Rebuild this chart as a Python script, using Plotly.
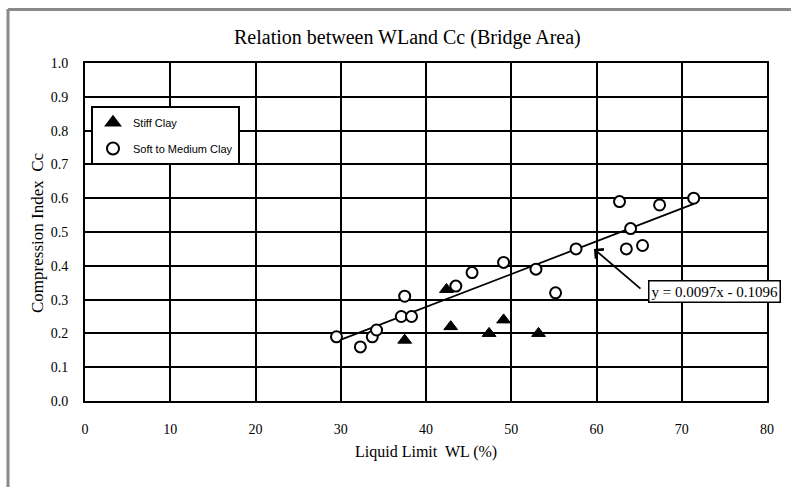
import plotly.graph_objects as go

# Liquid limit (%) and compression index for the bridge area samples
soft_wl = [29.5, 32.3, 33.7, 34.2, 37.1, 37.5, 38.3, 43.5, 45.4, 49.1,
           52.9, 55.2, 57.6, 62.7, 63.5, 64.0, 65.4, 67.4, 71.4]
soft_cc = [0.19, 0.16, 0.19, 0.21, 0.25, 0.31, 0.25, 0.34, 0.38, 0.41,
           0.39, 0.32, 0.45, 0.59, 0.45, 0.51, 0.46, 0.58, 0.60]

stiff_wl = [37.5, 42.4, 42.9, 47.4, 49.1, 53.2]
stiff_cc = [0.18, 0.33, 0.22, 0.20, 0.24, 0.20]

# Linear fit through the soft-to-medium clay points
slope = 0.0097
intercept = -0.1096
fit_label = "y = 0.0097x - 0.1096"

x_ticks = [0, 10, 20, 30, 40, 50, 60, 70, 80]
y_ticks = [0.0, 0.1, 0.2, 0.3, 0.4, 0.5, 0.6, 0.7, 0.8, 0.9, 1.0]

SERIF = "Liberation Serif, Times New Roman, serif"
SANS = "Liberation Sans, Arial, sans-serif"

W, H = 791, 487
L, R, T, B = 85, 24, 63, 86
PW, PH = W - L - R, H - T - B


def px_x(p):
    return (p - L) / PW


def px_y(p):
    return (H - B - p) / PH


fit_x = [min(soft_wl), max(soft_wl)]
fit_y = [slope * v + intercept for v in fit_x]

fig = go.Figure()

fig.add_trace(go.Scatter(
    x=fit_x, y=fit_y, mode="lines",
    line=dict(color="black", width=1.8),
    showlegend=False, hoverinfo="skip",
))

fig.add_trace(go.Scatter(
    x=stiff_wl, y=stiff_cc, mode="markers", name="Stiff Clay",
    legendgroup="stiff",
    marker=dict(symbol="triangle-up", size=12, color="black",
                line=dict(color="black", width=1)),
))

fig.add_trace(go.Scatter(
    x=soft_wl, y=soft_cc, mode="markers", name="Soft to Medium Clay",
    legendgroup="soft",
    marker=dict(symbol="circle", size=11, color="white",
                line=dict(color="black", width=2)),
))

axis_common = dict(
    showline=True, mirror=True, linecolor="black", linewidth=2,
    showgrid=True, gridcolor="black", gridwidth=1.8,
    zeroline=False, ticks="",
    tickfont=dict(family=SERIF, size=14, color="black"),
)

fig.update_xaxes(range=[0, 80], tickvals=x_ticks, ticklabelstandoff=14,
                 **axis_common)
fig.update_yaxes(range=[0, 1.0], tickvals=y_ticks, tickformat=".1f",
                 ticklabelstandoff=12, **axis_common)

annotations = [
    dict(text="Relation between WLand Cc (Bridge Area)",
         xref="paper", yref="paper", x=px_x(407), y=px_y(38),
         xanchor="center", yanchor="middle", showarrow=False,
         font=dict(family=SERIF, size=20, color="black")),
    dict(text="Liquid Limit  WL (%)",
         xref="paper", yref="paper", x=px_x(426), y=px_y(452),
         xanchor="center", yanchor="middle", showarrow=False,
         font=dict(family=SERIF, size=16, color="black")),
    dict(text="Compression Index  Cc",
         xref="paper", yref="paper", x=px_x(37), y=px_y(232),
         xanchor="center", yanchor="middle", showarrow=False,
         textangle=-90,
         font=dict(family=SERIF, size=17, color="black")),
    # pointer onto the fitted line
    dict(text="", x=59.7, y=0.45, xref="x", yref="y",
         showarrow=True, arrowhead=4, arrowsize=1.3, arrowwidth=1.8,
         arrowcolor="black", ax=48, ay=41),
    dict(text=fit_label,
         xref="paper", yref="paper", x=px_x(714.5), y=px_y(291),
         xanchor="center", yanchor="middle", showarrow=False,
         bgcolor="white", bordercolor="black", borderwidth=1.5, borderpad=2,
         font=dict(family=SERIF, size=15, color="black")),
]

# outer gray frame of the chart sheet
shapes = [
    dict(type="line", xref="paper", yref="paper",
         x0=px_x(8), x1=px_x(8), y0=px_y(9), y1=px_y(H + 5),
         line=dict(color="#8a8a8a", width=3)),
    dict(type="line", xref="paper", yref="paper",
         x0=px_x(8), x1=px_x(W + 5), y0=px_y(9.5), y1=px_y(9.5),
         line=dict(color="#8a8a8a", width=3)),
]

fig.update_layout(
    width=W, height=H,
    margin=dict(l=L, r=R, t=T, b=B, pad=0),
    paper_bgcolor="white", plot_bgcolor="white",
    annotations=annotations, shapes=shapes,
    showlegend=True,
    legend=dict(
        x=px_x(91), y=px_y(106), xanchor="left", yanchor="top",
        bgcolor="white", bordercolor="black", borderwidth=2,
        font=dict(family=SANS, size=11, color="black"),
        traceorder="grouped", tracegroupgap=7,
        itemsizing="constant",
    ),
)

fig.write_html("out.html")
